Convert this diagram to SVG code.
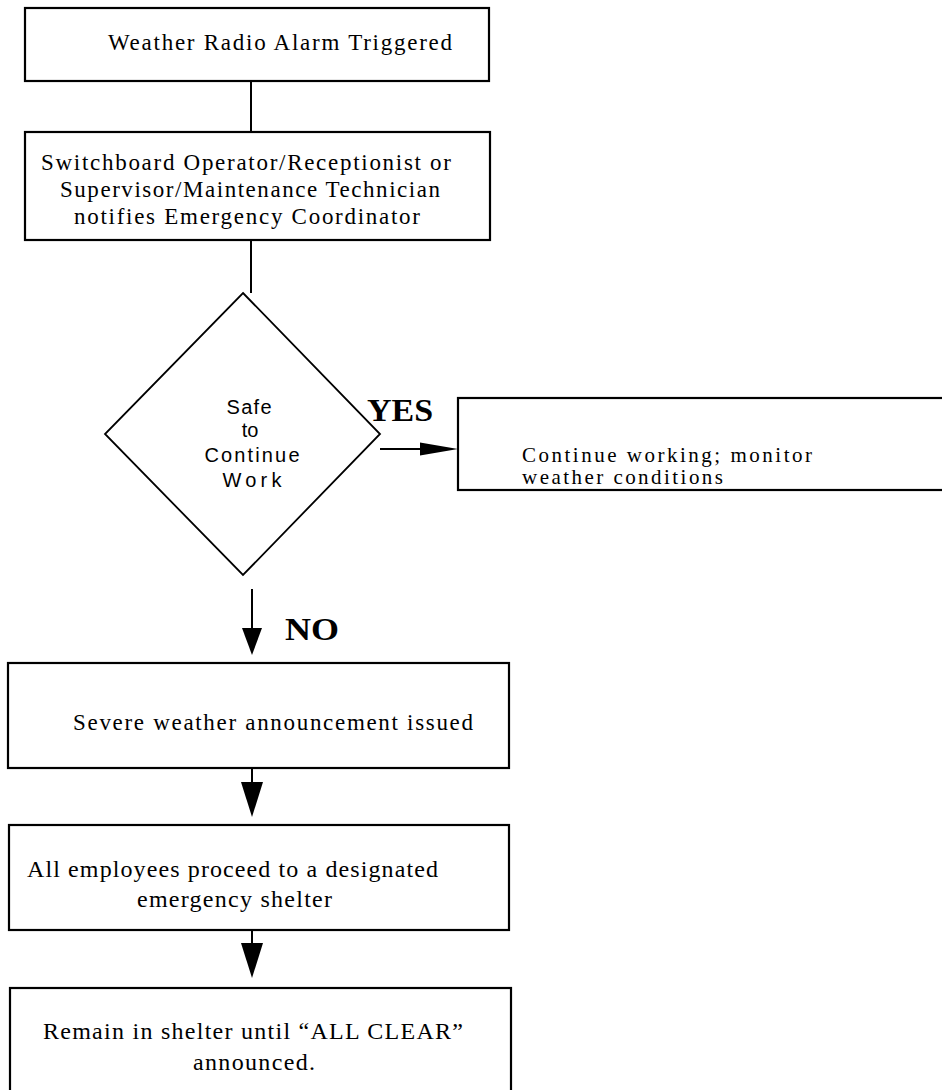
<svg xmlns="http://www.w3.org/2000/svg" width="942" height="1090" viewBox="0 0 942 1090">
<style>
.box{fill:#fff;stroke:#000;stroke-width:2.2}
.dia{fill:#fff;stroke:#000;stroke-width:1.8}
.t{font-family:"Liberation Serif","Times New Roman",serif;font-size:23px;fill:#000}
.s{font-family:"Liberation Sans",Arial,sans-serif;font-size:20px;fill:#000}
.b{font-family:"Liberation Serif","Times New Roman",serif;font-size:32px;font-weight:bold;fill:#000}
.ln{stroke:#000;stroke-width:2;fill:none}
.hd{fill:#000}
</style>
<rect width="942" height="1090" fill="#fff"/>
<g id="connectors">
<line class="ln" x1="251" y1="81" x2="251" y2="132"/>
<line class="ln" x1="251" y1="240" x2="251" y2="293"/>
<line class="ln" x1="380" y1="449" x2="422" y2="449"/>
<polygon class="hd" points="420,442.5 458,449 420,455.5"/>
<line class="ln" x1="252" y1="589" x2="252" y2="630"/>
<polygon class="hd" points="242,628 262,628 252,655"/>
<line class="ln" x1="252" y1="768" x2="252" y2="784"/>
<polygon class="hd" points="241,782 263,782 252,817"/>
<line class="ln" x1="252" y1="930" x2="252" y2="945"/>
<polygon class="hd" points="241,943 263,943 252,978"/>
</g>
<g id="alarm">
<rect class="box" x="25" y="8" width="464" height="73"/>
<text class="t" x="108" y="50" textLength="344" lengthAdjust="spacing">Weather Radio Alarm Triggered</text>
</g>
<g id="notify">
<rect class="box" x="25" y="132" width="465" height="108"/>
<text class="t" x="246" y="170" text-anchor="middle" textLength="410" lengthAdjust="spacing">Switchboard Operator/Receptionist or</text>
<text class="t" x="250" y="197" text-anchor="middle" textLength="380" lengthAdjust="spacing">Supervisor/Maintenance Technician</text>
<text class="t" x="247" y="224" text-anchor="middle" textLength="346" lengthAdjust="spacing">notifies Emergency Coordinator</text>
</g>
<g id="decision">
<polygon class="dia" points="243,293 380,434 243,575 105,434"/>
<text class="s" x="249" y="414" text-anchor="middle" textLength="45" lengthAdjust="spacing">Safe</text>
<text class="s" x="250" y="437" text-anchor="middle">to</text>
<text class="s" x="252" y="462" text-anchor="middle" textLength="95" lengthAdjust="spacing">Continue</text>
<text class="s" x="252" y="487" text-anchor="middle" textLength="59" lengthAdjust="spacing">Work</text>
</g>
<g id="yes-label"><text class="b" x="367" y="421" textLength="66" lengthAdjust="spacingAndGlyphs">YES</text></g>
<g id="no-label"><text class="b" x="285" y="640" textLength="54" lengthAdjust="spacingAndGlyphs">NO</text></g>
<g id="continue">
<rect class="box" x="458" y="398" width="500" height="92"/>
<text class="t" x="522" y="462" textLength="290" lengthAdjust="spacing" style="font-size:21px">Continue working; monitor</text>
<text class="t" x="522" y="484" textLength="201" lengthAdjust="spacing" style="font-size:21px">weather conditions</text>
</g>
<g id="announce">
<rect class="box" x="8" y="663" width="501" height="105"/>
<text class="t" x="73" y="730" textLength="400" lengthAdjust="spacing">Severe weather announcement issued</text>
</g>
<g id="proceed">
<rect class="box" x="9" y="825" width="500" height="105"/>
<text class="t" x="27" y="877" textLength="411" lengthAdjust="spacing" style="font-size:24px">All employees proceed to a designated</text>
<text class="t" x="137" y="907" textLength="195" lengthAdjust="spacing" style="font-size:24px">emergency shelter</text>
</g>
<g id="remain">
<rect class="box" x="10" y="988" width="501" height="110"/>
<text class="t" x="43" y="1039" textLength="420" lengthAdjust="spacing" style="font-size:24px">Remain in shelter until “ALL CLEAR”</text>
<text class="t" x="193" y="1070" textLength="122" lengthAdjust="spacing" style="font-size:24px">announced.</text>
</g>
</svg>
